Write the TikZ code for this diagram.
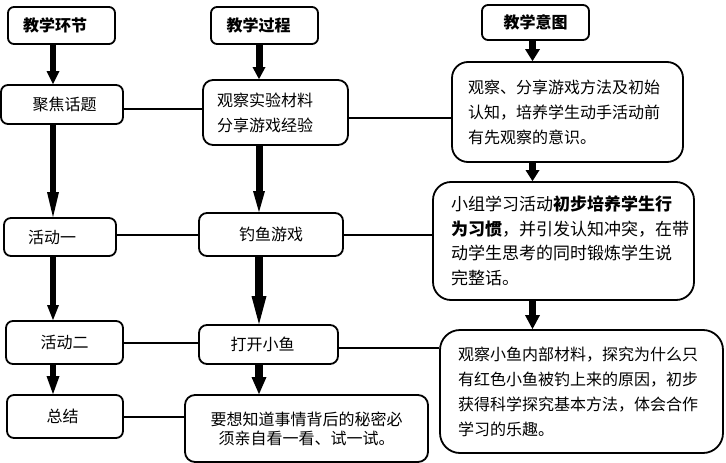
\documentclass[tikz,border=0pt]{standalone}
\usepackage{fontspec}
\newfontfamily\cjk{Noto Sans CJK SC}
\usetikzlibrary{arrows.meta}
\newcommand\shx[2]{\makebox[0pt]{\hspace*{#1}#2}}
\begin{document}
\begin{tikzpicture}[x=1pt,y=-1pt,
  box/.style={draw, line width=1.8pt, inner sep=0pt, align=center,
    font=\cjk\fontsize{16pt}{25pt}\selectfont},
  head/.style={box, rounded corners=6pt, minimum width=107pt,
    font=\cjk\bfseries\fontsize{16pt}{20pt}\selectfont},
  conn/.style={line width=2pt},
  arr/.style n args={3}{line width=#1pt,
    -{Triangle[length=#2pt,width=#3pt,line width=0pt]}}
]
\useasboundingbox (0,0) rectangle (726,463);

% headers
\node[head, minimum height=37pt] (h1) at (61.5,25.5) {\shx{-13pt}{教学环节}};
\node[head, minimum height=37pt] (h2) at (264.5,25.5) {\shx{-12pt}{教学过程}};
\node[head, minimum height=35pt] (h3) at (535.5,22.5) {教学意图};

% left column
\node[box, rounded corners=7pt, minimum width=122pt, minimum height=39pt] (a1) at (62,104.5) {\shx{5pt}{聚焦话题}};
\node[box, rounded corners=7pt, minimum width=112pt, minimum height=38pt] (a2) at (60,237) {\shx{-16pt}{活动一}};
\node[box, rounded corners=7pt, minimum width=117pt, minimum height=43pt] (a3) at (64.5,342.5) {活动二};
\node[box, rounded corners=7pt, minimum width=116pt, minimum height=43pt] (a4) at (65,416.5) {\shx{-5pt}{总结}};

% middle column
\node[box, rounded corners=10pt, minimum height=65pt, inner xsep=14pt, text width=117pt, align=left] (b1) at (275.5,112.5) {观察实验材料\\分享游戏经验};
\node[box, rounded corners=8pt, minimum width=144pt, minimum height=43pt] (b2) at (271,234.5) {钓鱼游戏};
\node[box, rounded corners=8pt, minimum width=139pt, minimum height=39pt] (b3) at (268.5,344.5) {\shx{-12pt}{打开小鱼}};
\node[box, rounded corners=10pt, minimum width=243pt, minimum height=67pt, font=\cjk\fontsize{16pt}{19pt}\selectfont] (b4) at (306.5,428.5) {要想知道事情背后的秘密必\\须亲自看一看、试一试。};

% right column
\node[box, rounded corners=16pt, minimum height=100pt, inner xsep=16pt, text width=199pt, align=left] (c1) at (567.5,112) {观察、分享游戏方法及初始\\认知，培养学生动手活动前\\有先观察的意识。};
\node[box, rounded corners=18pt, minimum height=118pt, inner xsep=18pt, text width=225pt, align=left, font=\cjk\fontsize{17pt}{24.5pt}\selectfont] (c2) at (563.5,241) {小组学习活动\textbf{初步培养学生行}\\\textbf{为习惯}，并引发认知冲突，在带\\动学生思考的同时锻炼学生说\\完整话。};
\node[box, rounded corners=20pt, minimum height=123pt, inner xsep=18pt, text width=247pt, align=left] (c3) at (581.5,391.5) {观察小鱼内部材料，探究为什么只\\有红色小鱼被钓上来的原因，初步\\获得科学探究基本方法，体会合作\\学习的乐趣。};

% column x positions and row y positions
\coordinate (xa) at (53,0);
\coordinate (xb) at (259,0);
\coordinate (xc) at (532.5,0);
\coordinate (y1) at (0,109);
\coordinate (y2) at (0,118);
\coordinate (y3) at (0,235);
\coordinate (y4) at (0,343);
\coordinate (y5) at (0,348);
\coordinate (y6) at (0,417);

% vertical arrows
\draw[arr={6}{13}{13}] (h1.south -| xa) -- (a1.north -| xa);
\draw[arr={6}{25}{12}] (a1.south -| xa) -- (a2.north -| xa);
\draw[arr={6}{15}{12}] (a2.south -| xa) -- (a3.north -| xa);
\draw[arr={6}{18}{13}] (a3.south -| xa) -- (a4.north -| xa);

\draw[arr={7}{12}{13}] (h2.south -| xb) -- (b1.north -| xb);
\draw[arr={7}{21}{12}] (b1.south -| xb) -- (b2.north -| xb);
\draw[arr={8}{28}{15}] (b2.south -| xb) -- (b3.north -| xb);
\draw[arr={8}{17}{15}] (b3.south -| xb) -- (b4.north -| xb);

\draw[arr={7}{12}{15}] (h3.south -| xc) -- (c1.north -| xc);
\draw[arr={7}{11}{14}] (c1.south -| xc) -- (c2.north -| xc);
\draw[arr={7}{14}{15}] (c2.south -| xc) -- (c3.north -| xc);

% horizontal connectors
\draw[conn] (a1.east |- y1) -- (b1.west |- y1);
\draw[conn] (b1.east |- y2) -- (c1.west |- y2);
\draw[conn] (a2.east |- y3) -- (b2.west |- y3);
\draw[conn] (b2.east |- y3) -- (c2.west |- y3);
\draw[conn] (a3.east |- y4) -- (b3.west |- y4);
\draw[conn] (b3.east |- y5) -- (c3.west |- y5);
\draw[conn] (a4.east |- y6) -- (b4.west |- y6);
\end{tikzpicture}
\end{document}
